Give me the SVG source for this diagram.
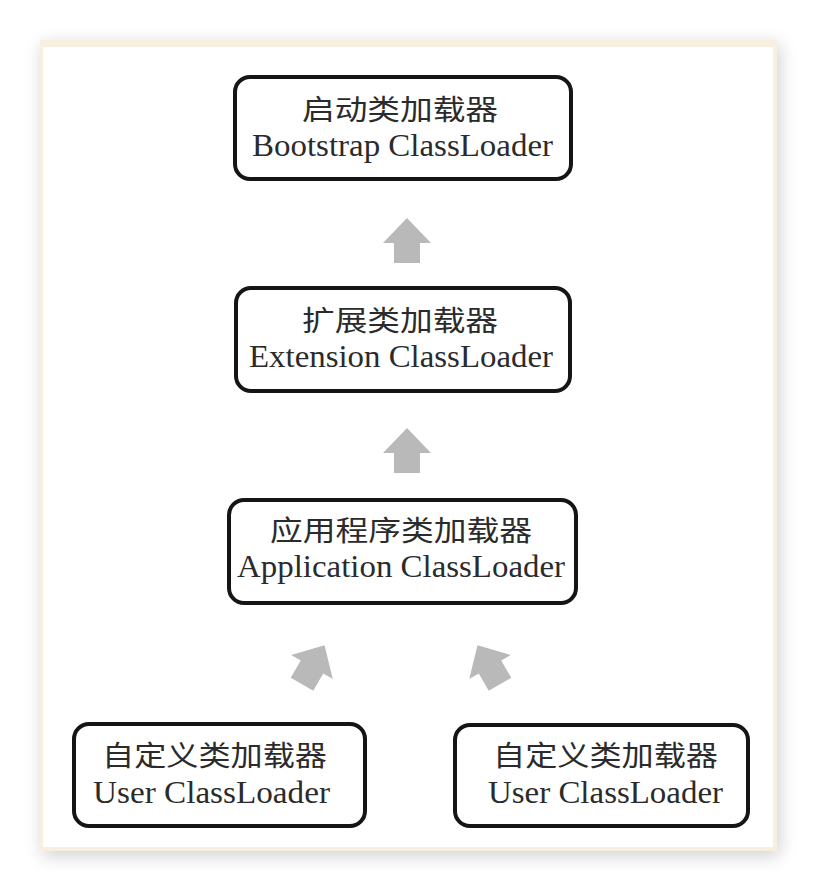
<svg xmlns="http://www.w3.org/2000/svg" width="818" height="892" viewBox="0 0 818 892">
  <style>
    .box { fill: #ffffff; stroke: #151515; stroke-width: 4; }
    .zh { font-family: "Liberation Serif", "Noto Sans CJK SC", serif; font-size: 28px; fill: #2b2b2b; }
    .en { font-family: "Liberation Serif", "Noto Sans CJK SC", serif; font-size: 31px; fill: #2b2b2b; }
    .arrow { fill: #b9b9b9; }
  </style>
  <defs>
    <filter id="shadow" x="-10%" y="-10%" width="120%" height="120%">
      <feGaussianBlur stdDeviation="9"/>
    </filter>
    <path id="arr" d="M0,-25 L24,0 L13,0 L13,20 L-13,20 L-13,0 L-24,0 Z"/>
  </defs>
  <rect x="0" y="0" width="818" height="892" fill="#ffffff"/>
  <g id="frame">
    <rect x="42" y="44" width="738" height="812" fill="#000000" opacity="0.18" filter="url(#shadow)"/>
    <rect x="40" y="40" width="737" height="811" fill="#f7efdf"/>
    <rect x="43" y="47" width="730" height="800" fill="#ffffff"/>
  </g>
  <g id="connectors">
    <use href="#arr" class="arrow" transform="translate(407,243)"/>
    <use href="#arr" class="arrow" transform="translate(407,453)"/>
    <use href="#arr" class="arrow" transform="translate(312,667) rotate(30)"/>
    <use href="#arr" class="arrow" transform="translate(490,667) rotate(-30)"/>
  </g>
  <g id="bootstrap">
    <rect class="box" x="235" y="77" width="336" height="102" rx="15"/>
    <text class="zh" x="302" y="120" textLength="196" lengthAdjust="spacingAndGlyphs">启动类加载器</text>
    <text class="en" x="252" y="156" textLength="301" lengthAdjust="spacingAndGlyphs">Bootstrap ClassLoader</text>
  </g>
  <g id="extension">
    <rect class="box" x="236" y="288" width="334" height="103" rx="15"/>
    <text class="zh" x="302" y="331" textLength="196" lengthAdjust="spacingAndGlyphs">扩展类加载器</text>
    <text class="en" x="249" y="367" textLength="304" lengthAdjust="spacingAndGlyphs">Extension ClassLoader</text>
  </g>
  <g id="application">
    <rect class="box" x="229" y="500" width="347" height="103" rx="15"/>
    <text class="zh" x="270" y="541" textLength="262" lengthAdjust="spacingAndGlyphs">应用程序类加载器</text>
    <text class="en" x="237" y="577" textLength="328" lengthAdjust="spacingAndGlyphs">Application ClassLoader</text>
  </g>
  <g id="user1">
    <rect class="box" x="74" y="724" width="291" height="102" rx="15"/>
    <text class="zh" x="102" y="766" textLength="225" lengthAdjust="spacingAndGlyphs">自定义类加载器</text>
    <text class="en" x="93" y="803" textLength="237" lengthAdjust="spacingAndGlyphs">User ClassLoader</text>
  </g>
  <g id="user2">
    <rect class="box" x="455" y="725" width="293" height="101" rx="15"/>
    <text class="zh" x="493" y="766" textLength="225" lengthAdjust="spacingAndGlyphs">自定义类加载器</text>
    <text class="en" x="488" y="803" textLength="235" lengthAdjust="spacingAndGlyphs">User ClassLoader</text>
  </g>
</svg>
